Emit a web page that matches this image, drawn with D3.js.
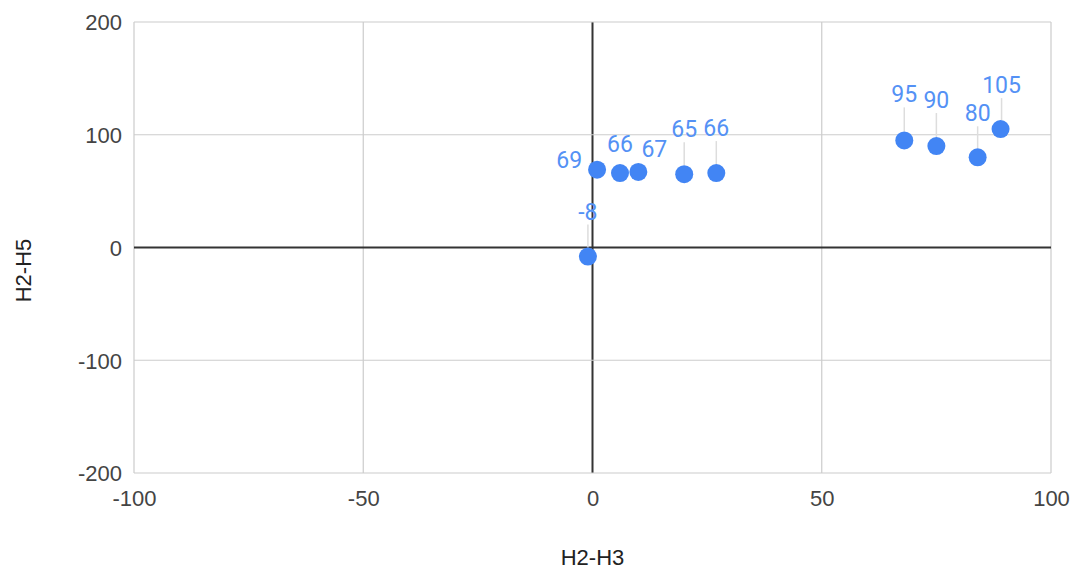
<!DOCTYPE html>
<html><head><meta charset="utf-8">
<script src="https://cdn.jsdelivr.net/npm/d3@7/dist/d3.min.js"></script>
<style>body{margin:0;background:#fff}svg{display:block}</style>
</head><body>
<script>
const xValues = [1, 6, 10, 20, 27, -1, 68, 75, 84, 89];
const yValues = [69, 66, 67, 65, 66, -8, 95, 90, 80, 105];
const labels = ["69","66","67","65","66","-8","95","90","80","105"];
// label placement: [dx, dy(baseline), anchor, leader]
const labelPlacement = [
  [-15, -2, "end", false],
  [0, -21, "middle", false],
  [16, -15, "middle", false],
  [0, -37, "middle", true],
  [0, -37, "middle", true],
  [0, -37, "middle", true],
  [0, -38, "middle", true],
  [0, -38, "middle", true],
  [0, -36, "middle", true],
  [1, -36, "middle", true]
];
const xTicks = [-100, -50, 0, 50, 100];
const yTicks = [-200, -100, 0, 100, 200];
const xTitle = "H2-H3", yTitle = "H2-H5";

const W = 1081, H = 576;
const m = {left: 134, right: 30, top: 22, bottom: 103};
const svg = d3.select("body").append("svg").attr("width", W).attr("height", H);
const x = d3.scaleLinear().domain([-100, 100]).range([m.left, W - m.right]);
const y = d3.scaleLinear().domain([-200, 200]).range([H - m.bottom, m.top]);

const g = svg.append("g");
g.selectAll(".gx").data(xTicks).join("line")
  .attr("x1", d => x(d)).attr("x2", d => x(d)).attr("y1", y(200)).attr("y2", y(-200))
  .attr("stroke", d => d === 0 ? "#333" : "#ccc").attr("stroke-width", d => d === 0 ? 2 : 1.2);
g.selectAll(".gy").data(yTicks).join("line")
  .attr("y1", d => y(d)).attr("y2", d => y(d)).attr("x1", x(-100)).attr("x2", x(100))
  .attr("stroke", d => d === 0 ? "#333" : "#ccc").attr("stroke-width", d => d === 0 ? 2 : 1.2);

const fmt = d => String(d);
const xAxis = svg.append("g").attr("transform", `translate(0,${y(-200)})`)
  .call(d3.axisBottom(x).tickValues(xTicks).tickFormat(fmt).tickSize(0).tickPadding(17));
const yAxis = svg.append("g").attr("transform", `translate(${x(-100)},0)`)
  .call(d3.axisLeft(y).tickValues(yTicks).tickFormat(fmt).tickSize(0).tickPadding(12));
[xAxis, yAxis].forEach(a => {
  a.select(".domain").remove();
  a.selectAll("text").attr("font-family", "Arial, 'Liberation Sans', sans-serif")
    .attr("font-size", 22).attr("fill", "#444");
});
yAxis.selectAll("text").attr("dy", "0.36em");

svg.append("text").attr("x", x(0)).attr("y", 565).attr("text-anchor", "middle")
  .attr("font-family", "Arial, 'Liberation Sans', sans-serif").attr("font-size", 22).attr("fill", "#222")
  .text(xTitle);
svg.append("text").attr("transform", `translate(31,${y(0) + 23}) rotate(-90)`).attr("text-anchor", "middle")
  .attr("font-family", "Arial, 'Liberation Sans', sans-serif").attr("font-size", 22).attr("fill", "#222")
  .text(yTitle);

const data = xValues.map((v, i) => ({x: v, y: yValues[i], label: labels[i], p: labelPlacement[i]}));
svg.selectAll(".leader").data(data.filter(d => d.p[3])).join("line")
  .attr("x1", d => x(d.x) + d.p[0]).attr("x2", d => x(d.x) + d.p[0])
  .attr("y1", d => y(d.y) - 9).attr("y2", d => y(d.y) + d.p[1] + 5)
  .attr("stroke", "#ddd").attr("stroke-width", 1.5);
svg.selectAll(".pt").data(data).join("circle")
  .attr("cx", d => x(d.x)).attr("cy", d => y(d.y)).attr("r", 9).attr("fill", "#4285F4");
svg.selectAll(".lbl").data(data).join("text")
  .attr("x", d => x(d.x) + d.p[0]).attr("y", d => y(d.y) + d.p[1])
  .attr("text-anchor", d => d.p[2])
  .attr("font-family", "Roboto, 'Noto Sans', sans-serif").attr("font-size", 23)
  .attr("fill", "#5491F5").text(d => d.label);
</script>
</body></html>
